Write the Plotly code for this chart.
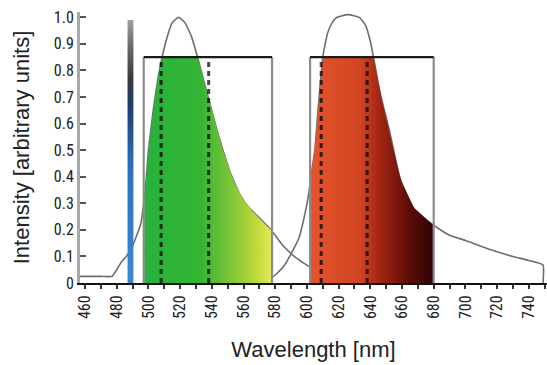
import numpy as np
import plotly.graph_objects as go

# ---- data ----
green_wl = [456.8, 470, 477, 480, 483, 486, 490, 495, 498, 500, 503, 506, 509, 512, 515, 519,
            523, 527, 531, 535, 539, 543, 547, 552, 558, 564, 570, 578, 585, 592, 598, 605, 612]
green_int = [0.025, 0.025, 0.025, 0.05, 0.08, 0.10, 0.14, 0.22, 0.35, 0.50, 0.65, 0.77, 0.86, 0.93, 0.98, 1.0,
             0.98, 0.93, 0.85, 0.76, 0.67, 0.58, 0.50, 0.41, 0.33, 0.28, 0.245, 0.195, 0.14, 0.10, 0.075, 0.05, 0.035]

red_wl = [574, 580, 585, 590, 595, 598, 601, 603, 605, 607, 610, 613, 616, 619, 626, 633, 637, 640,
          642, 646, 652, 659, 667, 675, 683, 690, 700, 716, 730, 740, 749, 749.01]
red_int = [0.0, 0.03, 0.06, 0.11, 0.17, 0.24, 0.33, 0.42, 0.50, 0.65, 0.85, 0.94, 0.98, 1.0, 1.01, 1.0, 0.97, 0.91,
           0.85, 0.72, 0.575, 0.39, 0.285, 0.24, 0.205, 0.18, 0.16, 0.125, 0.10, 0.085, 0.068, 0.0]

laser_band = [486.8, 490.5]
laser_top = 0.99

green_box = [497, 578]
red_box = [602, 680]
box_height = 0.85

green_dashes = [508, 538]
red_dashes = [609, 638]

x_tick_vals = list(range(460, 741, 20))
y_tick_vals = [0, 0.1, 0.2, 0.3, 0.4, 0.5, 0.6, 0.7, 0.8, 0.9, 1.0]
y_tick_text = ["0", "0.1", "0.2", "0.3", "0.4", "0.5", "0.6", "0.7", "0.8", "0.9", "1.0"]

green_scale = [[0, "#27b23c"], [0.45, "#35b533"], [0.7, "#86c637"], [0.9, "#c6dc3c"], [1, "#e4e85a"]]
red_scale = [[0, "#e4552c"], [0.4, "#d24524"], [0.55, "#a82614"], [0.8, "#5e0d07"], [1, "#2e0404"]]
laser_scale = [[0, "#3a88d4"], [0.45, "#2a6fbe"], [0.68, "#1d3d68"], [0.78, "#3a3a3a"], [0.9, "#6a6a6a"], [1, "#a0a0a0"]]

TICK_FONT = dict(family="Liberation Sans Narrow, Roboto Condensed, Arial Narrow, Liberation Sans, sans-serif",
                 size=16, color="#222")
TITLE_FONT = dict(family="Liberation Sans, Arial, sans-serif", size=22, color="#222")


def clipped_fill(wl, inten, lo, hi, cap):
    grid = np.linspace(lo, hi, 300)
    vals = np.minimum(np.interp(grid, wl, inten), cap)
    xs = [lo] + list(grid) + [hi]
    ys = [0] + list(vals) + [0]
    return xs, ys


fig = go.Figure()

# emission curves
for wl, inten in [(green_wl, green_int), (red_wl, red_int)]:
    fig.add_trace(go.Scatter(x=wl, y=inten, mode="lines", line_shape="spline",
                             line=dict(color="#6e6e6e", width=1.6, smoothing=0.4), hoverinfo="skip"))

# gradient fills inside the filter boxes
for (wl, inten, box, scale) in [(green_wl, green_int, green_box, green_scale),
                                (red_wl, red_int, red_box, red_scale)]:
    xs, ys = clipped_fill(wl, inten, box[0], box[1], box_height)
    fig.add_trace(go.Scatter(x=xs, y=ys, mode="lines", fill="toself",
                             line=dict(width=0),
                             fillgradient=dict(type="horizontal", colorscale=scale,
                                               start=box[0], stop=box[1]),
                             hoverinfo="skip"))

# laser line
fig.add_trace(go.Scatter(x=[laser_band[0], laser_band[0], laser_band[1], laser_band[1]],
                         y=[0, laser_top, laser_top, 0], mode="lines", fill="toself",
                         line=dict(width=0),
                         fillgradient=dict(type="vertical", colorscale=laser_scale, start=0, stop=laser_top),
                         hoverinfo="skip"))

# box sides (gray) and dashed lines
for box, dashes in [(green_box, green_dashes), (red_box, red_dashes)]:
    fig.add_trace(go.Scatter(x=[box[0], box[0], None, box[1], box[1]],
                             y=[0, box_height, None, 0, box_height], mode="lines",
                             line=dict(color="#8c8c8c", width=2.2), hoverinfo="skip"))
    for d in dashes:
        fig.add_trace(go.Scatter(x=[d, d], y=[0, box_height], mode="lines",
                                 line=dict(color="rgba(0,0,0,0.72)", width=3, dash="5px,4px"),
                                 hoverinfo="skip"))
    fig.add_trace(go.Scatter(x=[box[0], box[1]], y=[box_height, box_height], mode="lines",
                             line=dict(color="#1a1a1a", width=2.4), hoverinfo="skip"))

fig.update_layout(
    width=547, height=365,
    margin=dict(l=80, r=0, t=12, b=82),
    paper_bgcolor="white", plot_bgcolor="white",
    showlegend=False,
)
fig.update_xaxes(
    range=[456.8, 751.5], tickvals=x_tick_vals, tickangle=-90, automargin=False,
    ticks="outside", ticklen=4, tickwidth=1.5, tickcolor="#333",
    minor=dict(dtick=10, tick0=460, ticks="outside", ticklen=4, tickwidth=1.5, tickcolor="#333"),
    showline=True, linecolor="#111", linewidth=2, showgrid=False, zeroline=False,
    tickfont=TICK_FONT,
    title=dict(text="Wavelength [nm]", font=TITLE_FONT, standoff=23),
)
fig.update_yaxes(
    range=[0, 1.02], tickvals=y_tick_vals, ticktext=y_tick_text, automargin=False,
    ticks="inside", ticklen=6, tickwidth=2, tickcolor="#555",
    showline=True, linecolor="#a8a8a8", linewidth=3, showgrid=False, zeroline=False,
    tickfont=TICK_FONT,
    title=dict(text="Intensity [arbitrary units]", font=TITLE_FONT, standoff=19),
)

fig.write_html("out.html", config={"displayModeBar": False},
               post_script="document.body.style.margin='0';")
